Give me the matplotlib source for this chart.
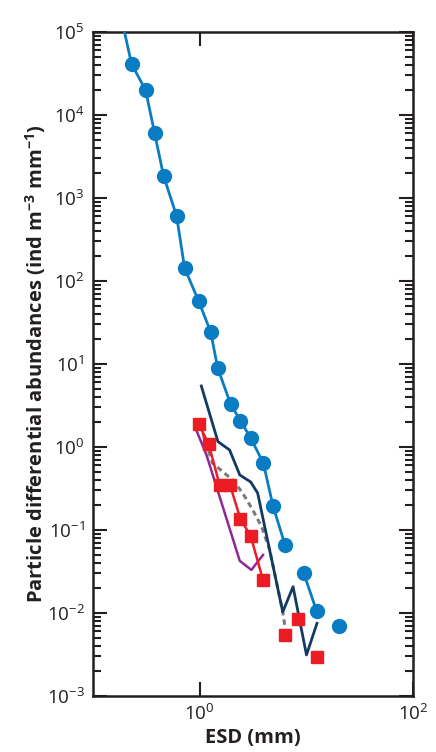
import numpy as np
import matplotlib
matplotlib.use("Agg")
import matplotlib.pyplot as plt
from matplotlib.ticker import LogLocator, NullLocator, FixedLocator

plt.rcParams['font.family'] = ['Open Sans', 'DejaVu Sans']
plt.rcParams['mathtext.fontset'] = 'custom'
plt.rcParams['mathtext.rm'] = 'Open Sans'
plt.rcParams['mathtext.bf'] = 'Open Sans:bold'

# blue series (circles), NaN breaks the line
blue_x = [0.189, 0.23, 0.311, 0.378, 0.459, 0.608, 0.723, 0.98, 1.27, 1.476, 1.95, 2.41, 3.01,
          3.96, 4.88, 6.32, np.nan, 9.48, 12.5, np.nan, 20.3]
blue_y = [1.29e5, 4.1e4, 2.0e4, 6.07e3, 1.84e3, 607, 143, 57, 24.3, 8.96, 3.3, 2.07, 1.29,
          0.637, 0.194, 0.066, np.nan, 0.030, 0.0106, np.nan, 0.00697]
blue_marker = [False] + [True] * 20

# dark navy line
navy_x = [1.037, 1.485, 1.91, 2.38, 3.01, 3.5, 4.08, 6.02, 7.52, 10.05, 12.6]
navy_y = [5.43, 1.16, 0.92, 0.46, 0.379, 0.279, 0.109, 0.0103, 0.0207, 0.00312, 0.0075]

# grey dashed line
grey_x = [1.07, 1.32, 2.04, 2.53, 3.15, 3.82, 4.54, 6.02, 6.28]
grey_y = [1.47, 0.64, 0.40, 0.279, 0.174, 0.109, 0.0574, 0.0103, 0.00716]

# purple line
purple_x = [0.943, 1.16, 2.38, 3.06, 3.93]
purple_y = [1.53, 0.80, 0.0424, 0.033, 0.05]

# red squares, first seven joined by a line
red_x = [0.978, 1.215, 1.54, 1.93, 2.41, 3.01, 3.93, 6.28, 8.38, 12.6]
red_y = [1.89, 1.09, 0.348, 0.348, 0.136, 0.0847, 0.025, 0.00543, 0.00848, 0.00292]
red_joined = 7

blue_c = '#0a7cc4'
navy_c = '#123a62'
red_c = '#ec1c24'
purple_c = '#8e2a98'
grey_c = '#7a7a7a'
ink = '#231f20'

fig = plt.figure(figsize=(4.36, 7.52), dpi=100)
ax = fig.add_axes([0.2133, 0.0745, 0.7337, 0.883])
ax.set_xscale('log')
ax.set_yscale('log')
ax.set_xlim(0.1, 100)
ax.set_ylim(1e-3, 1e5)

ax.plot(purple_x, purple_y, color=purple_c, lw=1.8, zorder=2)
ax.plot(grey_x, grey_y, color=grey_c, lw=2.2, ls=(0, (1.8, 1.3)), zorder=2)
ax.plot(navy_x, navy_y, color=navy_c, lw=2.0, zorder=3)
ax.plot(red_x[:red_joined], red_y[:red_joined], color=red_c, lw=1.8, zorder=4)
ax.plot(red_x, red_y, ls='none', marker='s', ms=9, color=red_c, zorder=5)
ax.plot(blue_x, blue_y, color=blue_c, lw=2.0, zorder=4)
bx = [x for x, m in zip(blue_x, blue_marker) if m]
by = [y for y, m in zip(blue_y, blue_marker) if m]
ax.plot(bx, by, ls='none', marker='o', ms=10, color=blue_c, zorder=6)

ax.xaxis.set_major_locator(FixedLocator([1, 100]))
ax.xaxis.set_minor_locator(NullLocator())
ax.set_xticklabels([r'$10^0$', r'$10^2$'])
ax.yaxis.set_minor_locator(LogLocator(base=10, subs=np.arange(2, 10), numticks=20))
ax.set_yticks([10.0 ** k for k in range(-3, 6)])
ax.set_yticklabels([r'$10^{%d}$' % k for k in range(-3, 6)])
ax.set_ylim(1e-3, 1e5)

ax.tick_params(which='both', direction='in', top=True, right=True, colors=ink,
               labelsize=13.5, width=1.5)
ax.tick_params(axis='y', pad=6)
ax.tick_params(axis='x', pad=5)
ax.tick_params(which='major', length=10)
ax.tick_params(which='minor', length=6)
for s in ax.spines.values():
    s.set_linewidth(1.8)
    s.set_color(ink)

ax.set_xlabel('ESD (mm)', fontsize=14.5, fontweight='bold', color=ink, labelpad=3)
ax.set_ylabel(r'Particle differential abundances (ind m$^{\mathbf{-3}}$ mm$^{\mathbf{-1}}$)',
              fontsize=14.5, fontweight='bold', color=ink, labelpad=-1)

fig.savefig('out.png', dpi=100)
